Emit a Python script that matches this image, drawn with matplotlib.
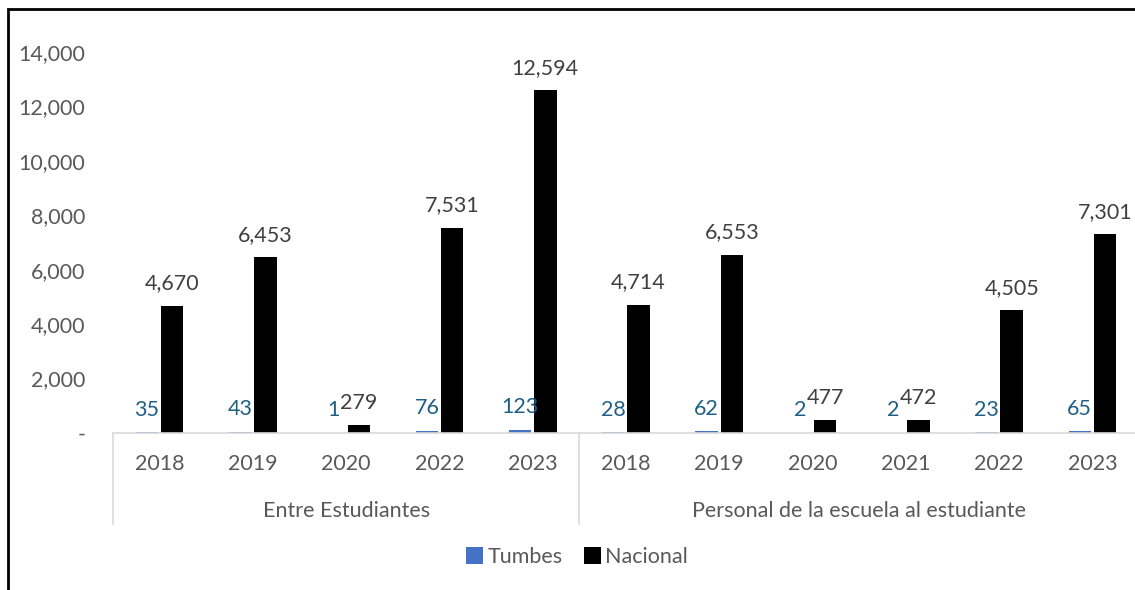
import matplotlib
matplotlib.use("Agg")
import matplotlib.pyplot as plt
from matplotlib.patches import Rectangle
from matplotlib.ticker import FuncFormatter
import numpy as np

GROUPS = ["Entre Estudiantes", "Personal de la escuela al estudiante"]
YEARS_ENTRE = ["2018", "2019", "2020", "2022", "2023"]
YEARS_PERSONAL = ["2018", "2019", "2020", "2021", "2022", "2023"]

TUMBES_ENTRE = [35, 43, 1, 76, 123]
NACIONAL_ENTRE = [4670, 6453, 279, 7531, 12594]
TUMBES_PERSONAL = [28, 62, 2, 2, 23, 65]
NACIONAL_PERSONAL = [4714, 6553, 477, 472, 4505, 7301]

TUMBES_COLOR = "#4472C4"
NACIONAL_COLOR = "#000000"
TUMBES_LABEL_COLOR = "#1F5F86"
TEXT_COLOR = "#404040"
TICK_COLOR = "#595959"
AXIS_COLOR = "#D9D9D9"
FS = 15.5

plt.rcParams["font.family"] = ["Lato", "DejaVu Sans"]

years = YEARS_ENTRE + YEARS_PERSONAL
tumbes = TUMBES_ENTRE + TUMBES_PERSONAL
nacional = NACIONAL_ENTRE + NACIONAL_PERSONAL
x = np.arange(len(years))
bar_w = 0.24
gap = 0.03

fig = plt.figure(figsize=(11.35, 5.9), dpi=100)
ax = fig.add_axes([113 / 1135, 1 - 433 / 590, 1026 / 1135, 381 / 590])

b1 = ax.bar(x - bar_w / 2 - gap / 2, tumbes, bar_w, color=TUMBES_COLOR, label="Tumbes")
b2 = ax.bar(x + bar_w / 2 + gap / 2, nacional, bar_w, color=NACIONAL_COLOR, label="Nacional")

for rect, val in zip(b1, tumbes):
    ax.annotate(f"{val:,}", (rect.get_x() + rect.get_width() / 2, rect.get_height()),
                xytext=(0, 9), textcoords="offset points", ha="center", va="bottom",
                fontsize=FS, color=TUMBES_LABEL_COLOR)
for rect, val in zip(b2, nacional):
    ax.annotate(f"{val:,}", (rect.get_x() + rect.get_width() / 2, rect.get_height()),
                xytext=(0, 9), textcoords="offset points", ha="center", va="bottom",
                fontsize=FS, color=TEXT_COLOR)

ax.set_xlim(-0.5, len(years) - 0.5)
ax.set_ylim(0, 14000)
ax.set_yticks(range(0, 14001, 2000))
ax.yaxis.set_major_formatter(FuncFormatter(lambda v, _: "-" if v == 0 else f"{int(v):,}"))
ax.tick_params(axis="y", length=0, pad=20, labelsize=FS, labelcolor=TICK_COLOR)
ax.set_xticks(x)
ax.set_xticklabels(years)
ax.tick_params(axis="x", length=0, pad=15, labelsize=FS, labelcolor=TICK_COLOR)

for side in ["top", "right", "left"]:
    ax.spines[side].set_visible(False)
ax.spines["bottom"].set_color(AXIS_COLOR)
ax.spines["bottom"].set_linewidth(1.2)

# group separators and group labels
n1 = len(YEARS_ENTRE)
bounds = [-0.5, n1 - 0.5, len(years) - 0.5]
for b in bounds:
    ax.plot([b, b], [0, -0.24], color=AXIS_COLOR, lw=1.2, transform=ax.get_xaxis_transform(),
            clip_on=False)
for name, lo, hi in zip(GROUPS, bounds[:-1], bounds[1:]):
    ax.text((lo + hi) / 2, -0.205, name, transform=ax.get_xaxis_transform(), ha="center",
            va="center", fontsize=FS, color=TICK_COLOR)

fig.legend(handles=[b1, b2], loc="center", bbox_to_anchor=(577 / 1135, 1 - 557 / 590), ncol=2,
           frameon=False, fontsize=FS, labelcolor=TICK_COLOR, handlelength=0.8,
           handleheight=0.8, handletextpad=0.2, columnspacing=1.0)

fig.patches.append(Rectangle((8 / 1135, -0.1), 1.2, 1.1 - 9 / 590, transform=fig.transFigure,
                             fill=False, edgecolor="black", lw=2))

fig.savefig("out.png", dpi=100)
